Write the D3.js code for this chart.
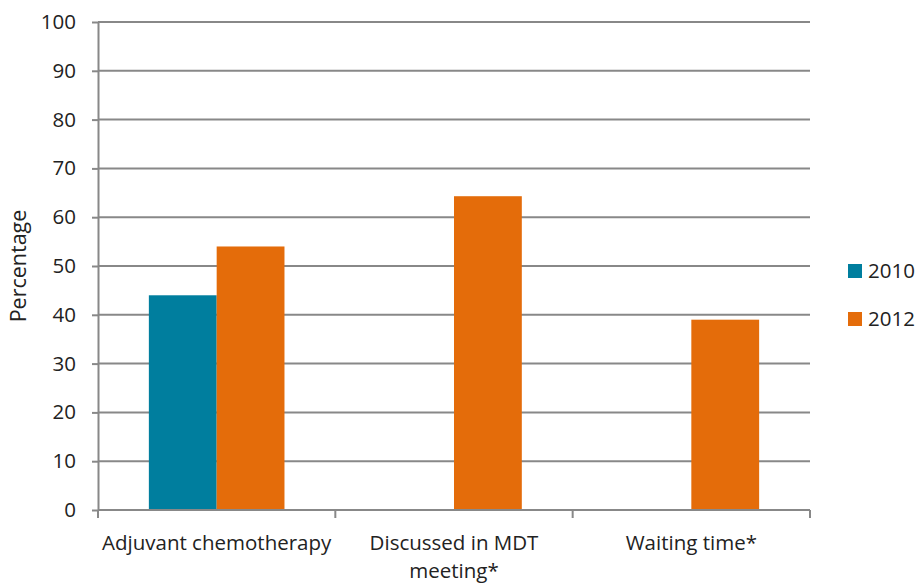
<!DOCTYPE html>
<html>
<head>
<meta charset="utf-8">
<script src="https://cdn.jsdelivr.net/npm/d3@7"></script>
<style>
  body { margin: 0; background: #fff; }
  svg text { font-family: "Open Sans", sans-serif; fill: #222; }
</style>
</head>
<body>
<div id="chart"></div>
<script>
// chart data
const categories = ['Adjuvant chemotherapy', 'Discussed in MDT meeting*', 'Waiting time*'];
const seriesNames = ['2010', '2012'];
const values2010 = [44, null, null];
const values2012 = [54, 64.3, 39];
const yTicks = [0, 10, 20, 30, 40, 50, 60, 70, 80, 90, 100];

const colors = {'2010': '#007e9e', '2012': '#e46c0a'};
const gridColor = '#888888';
const fontSize = '20.5px';

const width = 919, height = 583;
const margin = {top: 22, right: 109, bottom: 73, left: 98};
const plotW = width - margin.left - margin.right;
const plotH = height - margin.top - margin.bottom;

const rows = categories.map((c, i) => ({name: c, '2010': values2010[i], '2012': values2012[i]}));

const svg = d3.select('#chart')
  .append('svg')
  .attr('width', width)
  .attr('height', height);

const g = svg.append('g')
  .attr('transform', `translate(${margin.left},${margin.top})`);

const x = d3.scaleBand()
  .domain(categories)
  .range([0, plotW]);

const xInner = d3.scaleBand()
  .domain(seriesNames)
  .range([0, x.bandwidth()])
  .paddingOuter(0.75);

const y = d3.scaleLinear()
  .domain([0, 100])
  .range([plotH, 0]);

// y axis + gridlines
const yAxis = g.append('g')
  .call(d3.axisLeft(y).tickValues(yTicks).tickSize(6).tickPadding(16).tickSizeOuter(0));
yAxis.select('.domain').attr('stroke', gridColor).attr('stroke-width', 2);
yAxis.selectAll('.tick line').attr('stroke', gridColor).attr('stroke-width', 2);
yAxis.selectAll('.tick text').style('font-size', fontSize).attr('fill', '#222');

g.append('g')
  .selectAll('line')
  .data(yTicks.filter(d => d > 0))
  .enter().append('line')
  .attr('x1', 0)
  .attr('x2', plotW)
  .attr('y1', d => y(d))
  .attr('y2', d => y(d))
  .attr('stroke', gridColor)
  .attr('stroke-width', 2);

// bars
g.append('g')
  .selectAll('g')
  .data(rows)
  .enter().append('g')
  .attr('transform', d => `translate(${x(d.name)},0)`)
  .selectAll('rect')
  .data(d => seriesNames.filter(s => d[s] != null).map(s => ({key: s, value: d[s]})))
  .enter().append('rect')
  .attr('x', d => xInner(d.key))
  .attr('y', d => y(d.value))
  .attr('width', xInner.bandwidth())
  .attr('height', d => y(0) - y(d.value))
  .attr('fill', d => colors[d.key]);

// x axis
const xAxis = g.append('g')
  .attr('transform', `translate(0,${plotH})`);
xAxis.append('line')
  .attr('x1', 0).attr('x2', plotW)
  .attr('stroke', gridColor).attr('stroke-width', 2);
xAxis.selectAll('.xtick')
  .data([0, 1, 2, 3])
  .enter().append('line')
  .attr('x1', i => i * x.step())
  .attr('x2', i => i * x.step())
  .attr('y1', 0).attr('y2', 8)
  .attr('stroke', gridColor).attr('stroke-width', 2);

const labelLines = {
  'Adjuvant chemotherapy': ['Adjuvant chemotherapy'],
  'Discussed in MDT meeting*': ['Discussed in MDT', 'meeting*'],
  'Waiting time*': ['Waiting time*']
};
xAxis.selectAll('.xlab')
  .data(categories)
  .enter().append('text')
  .attr('text-anchor', 'middle')
  .style('font-size', fontSize)
  .attr('transform', d => `translate(${x(d) + x.bandwidth() / 2},40)`)
  .each(function(d) {
    d3.select(this).selectAll('tspan')
      .data(labelLines[d])
      .enter().append('tspan')
      .attr('x', 0)
      .attr('dy', (t, i) => i === 0 ? 0 : 28)
      .text(t => t);
  });

// y label
svg.append('text')
  .attr('transform', `translate(26,${margin.top + plotH / 2}) rotate(-90)`)
  .attr('text-anchor', 'middle')
  .style('font-size', '21.5px')
  .text('Percentage');

// legend
const legend = svg.append('g')
  .attr('transform', 'translate(848,264)');
const li = legend.selectAll('g')
  .data(seriesNames)
  .enter().append('g')
  .attr('transform', (d, i) => `translate(0,${i * 48})`);
li.append('rect')
  .attr('width', 14).attr('height', 14)
  .attr('fill', d => colors[d]);
li.append('text')
  .attr('x', 20).attr('y', 14)
  .style('font-size', fontSize)
  .text(d => d);
</script>
</body>
</html>
